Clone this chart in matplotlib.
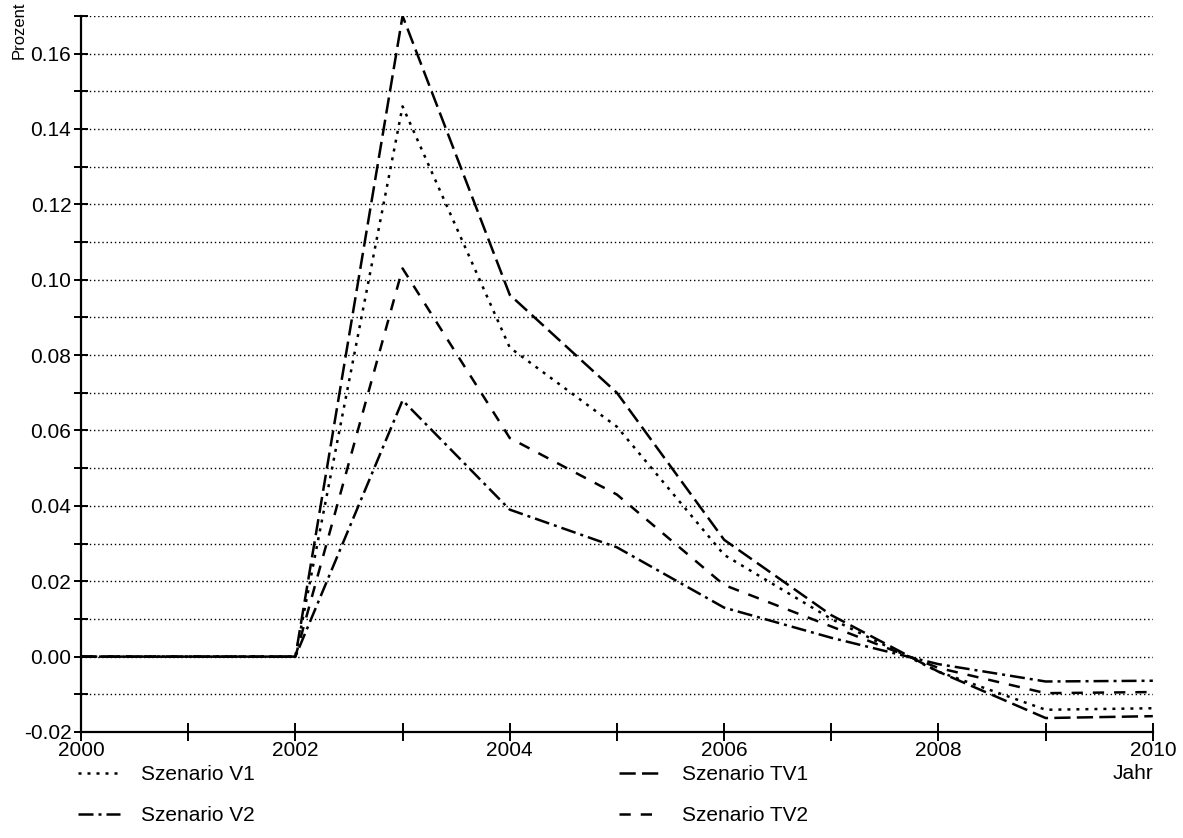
import matplotlib.pyplot as plt
from matplotlib.ticker import MultipleLocator, FormatStrFormatter

plt.rcParams["font.family"] = ["Liberation Sans", "DejaVu Sans"]

# Jahre und Abweichungen in Prozent je Szenario
jahre = [2000, 2001, 2002, 2003, 2004, 2005, 2006, 2007, 2008, 2009, 2010]
szenario_v1 = [0.0, 0.0, 0.0, 0.146, 0.082, 0.061, 0.027, 0.010, -0.004, -0.0141, -0.0137]
szenario_v2 = [0.0, 0.0, 0.0, 0.068, 0.039, 0.029, 0.013, 0.005, -0.002, -0.0066, -0.0064]
szenario_tv1 = [0.0, 0.0, 0.0, 0.170, 0.096, 0.070, 0.031, 0.011, -0.004, -0.0163, -0.0158]
szenario_tv2 = [0.0, 0.0, 0.0, 0.103, 0.058, 0.043, 0.019, 0.008, -0.003, -0.0097, -0.0094]

fig = plt.figure(figsize=(11.83, 8.38), dpi=100)
ax = fig.add_axes([0.0685, 0.1265, 0.906, 0.8545])

lw = 1.8
ax.plot(jahre, szenario_v1, color="black", lw=lw, dashes=(1.2, 2.4), label="Szenario V1")
ax.plot(jahre, szenario_v2, color="black", lw=lw, dashes=(6, 2, 1.2, 2), label="Szenario V2")
ax.plot(jahre, szenario_tv1, color="black", lw=lw, dashes=(6.5, 2.5), label="Szenario TV1")
ax.plot(jahre, szenario_tv2, color="black", lw=lw, dashes=(4.5, 4), label="Szenario TV2")

ax.set_xlim(2000, 2010)
ax.set_ylim(-0.02, 0.17)

# gepunktete Hilfslinien alle 0.01
ax.yaxis.set_major_locator(MultipleLocator(0.02))
ax.yaxis.set_minor_locator(MultipleLocator(0.01))
ax.yaxis.set_major_formatter(FormatStrFormatter("%.2f"))
ax.grid(axis="y", which="both", color="black", lw=1.0, linestyle=(0, (1, 2)))
ax.set_axisbelow(True)

ax.xaxis.set_major_locator(MultipleLocator(2))
ax.xaxis.set_minor_locator(MultipleLocator(1))

for side in ["top", "right"]:
    ax.spines[side].set_visible(False)
for side in ["left", "bottom"]:
    ax.spines[side].set_linewidth(1.6)

ax.tick_params(which="both", direction="inout", width=1.4, labelsize=15, colors="black")
ax.tick_params(axis="y", which="both", length=10, pad=2)
ax.tick_params(axis="x", which="both", length=13, pad=0)

fig.text(0.0165, 0.964, "Prozent", rotation=90, ha="center", va="center", fontsize=12)
fig.text(0.958, 0.077, "Jahr", ha="center", va="center", fontsize=15)

ax.legend(loc="upper left", bbox_to_anchor=(-0.020, -0.020), ncol=2, frameon=False,
          fontsize=15, handlelength=2.0, handletextpad=1.0, columnspacing=17.5,
          labelspacing=1.05)

fig.savefig("out.png", dpi=100)
